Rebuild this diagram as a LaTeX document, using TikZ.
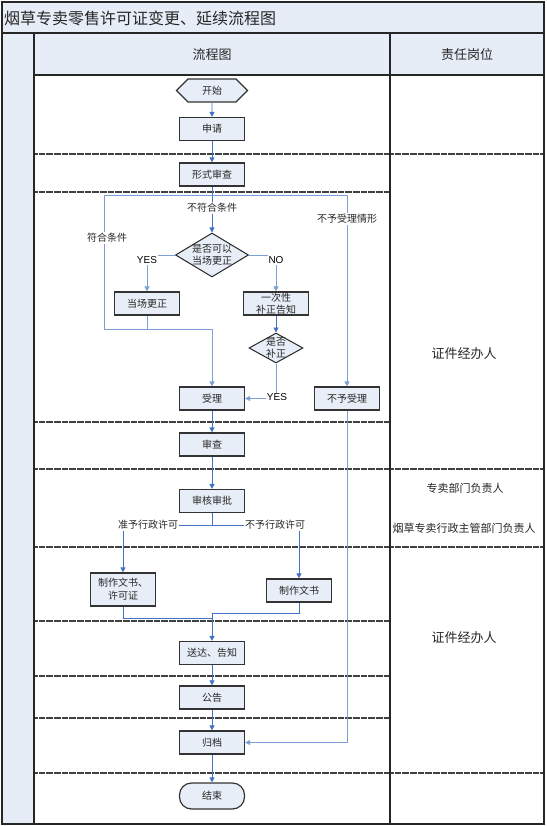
\documentclass[tikz,border=0pt]{standalone}
\usepackage{fontspec}
\setmainfont{Noto Sans CJK SC}
\newfontfamily\latin{Liberation Sans}
\usetikzlibrary{arrows.meta,shapes.geometric,shapes.symbols}
\definecolor{hdr}{HTML}{E6EDF7}
\definecolor{nodefill}{HTML}{E8EEF7}
\definecolor{flow}{HTML}{4472C4}
\definecolor{flowlt}{HTML}{7C9FD8}
\begin{document}
\begin{tikzpicture}[x=1pt,y=-1pt,
  box/.style={draw=black!80, line width=1.2pt, fill=nodefill, minimum width=65pt, minimum height=23pt, inner sep=0pt, align=center, font=\fontsize{10}{12}\selectfont, text=black!85},
  dia/.style={draw=black!85, line width=1pt, fill=nodefill, shape=diamond, inner sep=0pt},
  dtext/.style={align=center, font=\fontsize{10}{12}\selectfont, text=black!85, inner sep=0pt},
  lbl/.style={fill=white, inner sep=1pt, font=\fontsize{10}{12}\selectfont, text=black!85},
  yn/.style={fill=white, inner sep=1pt, font=\latin\fontsize{10}{12}\selectfont, text=black},
  conn/.style={draw=flow, line width=0.9pt, -{Triangle[length=5pt,width=5pt]}},
  connlt/.style={draw=flowlt, line width=0.9pt, -{Triangle[length=5pt,width=5pt]}},
  line/.style={draw=flow, line width=0.9pt},
  linelt/.style={draw=flowlt, line width=0.9pt},
  frame/.style={draw=black!85, line width=1.4pt},
  sepline/.style={draw=black!75, line width=1.6pt, dash pattern=on 0.8pt off 0.35pt},
  ptxt/.style={text=black!85, inner sep=0pt}]
\useasboundingbox (0,0) rectangle (546,826);
% backgrounds
\fill[hdr] (2,2) rectangle (544,33);
\fill[hdr] (34,33) rectangle (544,75);
\fill[hdr] (2,33) rectangle (34,824);
% separators
\foreach \yy in {154,192,422,469,547,621,676,718,773} {\draw[sepline] (34,\yy) -- (390,\yy);}
\foreach \yy in {154,469,547,773} {\draw[sepline] (390,\yy) -- (544,\yy);}
% frame
\draw[frame] (2,2) rectangle (544,824);
\draw[frame] (2,33) -- (544,33);
\draw[frame] (34,33) -- (34,824);
\draw[frame] (390,33) -- (390,824);
\draw[frame] (34,75) -- (544,75);
% texts
\node[ptxt, anchor=west, font=\fontsize{16}{18}\selectfont] (title) at (4,18) {烟草专卖零售许可证变更、延续流程图};
\node[ptxt, font=\fontsize{13}{15}\selectfont] (hflow) at (212,55) {流程图};
\node[ptxt, font=\fontsize{13}{15}\selectfont] (hpost) at (467,55) {责任岗位};
\node[ptxt, font=\fontsize{13}{15}\selectfont] (p1) at (464,354) {证件经办人};
\node[ptxt, font=\fontsize{11}{13}\selectfont] (p2) at (465,488) {专卖部门负责人};
\node[ptxt, font=\fontsize{11}{13}\selectfont] (p3) at (464,528) {烟草专卖行政主管部门负责人};
\node[ptxt, font=\fontsize{13}{15}\selectfont] (p4) at (464,638) {证件经办人};
% nodes
\node[box, shape=signal, signal to=west and east, signal pointer angle=90, minimum width=71pt] (start) at (212,90.5) {开始};
\node[box] (apply) at (212,129) {申请};
\node[box] (formal) at (212,174.5) {形式审查};
\node[dia, minimum width=73pt, minimum height=44pt] (d1) at (212,255) {};
\node[dtext] (d1t) at (d1) {是否可以\\当场更正};
\node[box] (fix) at (147,303.5) {当场更正};
\node[box] (notify) at (276,303.5) {一次性\\补正告知};
\node[dia, minimum width=54pt, minimum height=30pt] (d2) at (276,348) {};
\node[dtext] (d2t) at (d2) {是否\\补正};
\node[box] (accept) at (212,398.5) {受理};
\node[box] (reject) at (347,398.5) {不予受理};
\node[box] (review) at (212,444.5) {审查};
\node[box] (approve) at (212,501) {审核审批};
\node[box, minimum height=33pt, font=\fontsize{10}{13}\selectfont] (doc1) at (123,589.5) {制作文书、\\许可证};
\node[box] (doc2) at (299,590.5) {制作文书};
\node[box] (deliver) at (212,653) {送达、告知};
\node[box] (notice) at (212,697.5) {公告};
\node[box] (archive) at (212,742.5) {归档};
\node[box, rounded corners=12pt, minimum height=26pt] (finish) at (212,796) {结束};
% coordinates
\coordinate (jt) at (212,195);
\coordinate (ll) at (104,329);
\coordinate (fj) at (147,329);
\coordinate (aj) at (212,525);
\coordinate (m1) at (212,618);
\coordinate (m2) at (212,613);
% connectors
\draw[conn] (start) -- (apply);
\draw[conn] (apply) -- (formal);
\draw[conn] (formal) -- (d1);
\draw[connlt] (jt) -| (ll) -| (accept);
\draw[connlt] (jt) -| (reject);
\draw[connlt] (d1.west) -| (fix);
\draw[connlt] (d1.east) -| (notify);
\draw[linelt] (fix) -- (fj);
\draw[conn] (notify) -- (d2);
\draw[connlt] (d2) |- (accept);
\draw[connlt] (reject) |- (archive);
\draw[conn] (accept) -- (review);
\draw[conn] (review) -- (approve);
\draw[line] (approve) -- (aj);
\draw[conn] (aj) -| (doc1);
\draw[conn] (aj) -| (doc2);
\draw[line] (doc1) |- (m1);
\draw[conn] (doc2) |- (m2) -- (deliver);
\draw[conn] (deliver) -- (notice);
\draw[conn] (notice) -- (archive);
\draw[conn] (archive) -- (finish);
% labels
\node[lbl] (l1) at (212,208) {不符合条件};
\node[lbl] (l2) at (107,238) {符合条件};
\node[lbl] (l3) at (347,219) {不予受理情形};
\node[yn] (y1) at (147,260) {YES};
\node[yn] (n1) at (276,260) {NO};
\node[yn] (y2) at (277,397.5) {YES};
\node[lbl] (l4) at (148,525) {准予行政许可};
\node[lbl] (l5) at (275,525) {不予行政许可};
\end{tikzpicture}
\end{document}
